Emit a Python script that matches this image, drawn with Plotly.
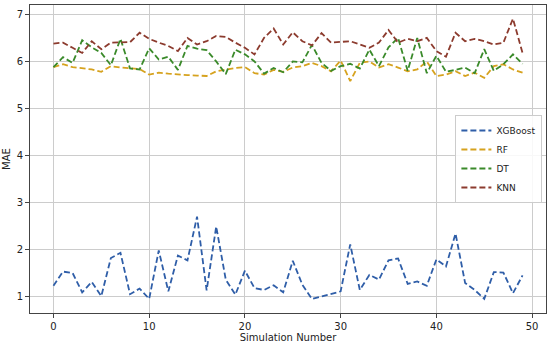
import plotly.graph_objects as go

sim = list(range(50))

xgboost = [1.23, 1.53, 1.50, 1.09, 1.31, 1.01, 1.82, 1.93, 1.05, 1.17,
           0.95, 1.98, 1.11, 1.87, 1.77, 2.70, 1.13, 2.49, 1.36, 1.04,
           1.55, 1.18, 1.14, 1.24, 1.09, 1.76, 1.25, 0.95, 1.00, 1.05,
           1.11, 2.11, 1.14, 1.46, 1.36, 1.77, 1.81, 1.27, 1.32, 1.23,
           1.79, 1.64, 2.34, 1.29, 1.14, 0.95, 1.52, 1.51, 1.07, 1.45]

rf = [5.88, 5.94, 5.88, 5.85, 5.83, 5.78, 5.90, 5.87, 5.85, 5.84,
      5.72, 5.76, 5.74, 5.72, 5.71, 5.70, 5.69, 5.79, 5.83, 5.86,
      5.88, 5.75, 5.72, 5.82, 5.78, 5.87, 5.90, 5.97, 5.90, 5.79,
      6.02, 5.58, 5.97, 6.00, 5.87, 5.94, 5.87, 5.79, 5.83, 6.00,
      5.69, 5.72, 5.79, 5.69, 5.76, 5.65, 5.90, 5.94, 5.83, 5.76]

dt = [5.88, 6.09, 5.97, 6.45, 6.30, 6.18, 5.92, 6.48, 5.85, 5.83,
      6.28, 6.04, 6.10, 5.82, 6.33, 6.27, 6.24, 6.00, 5.73, 6.25,
      6.15, 6.00, 5.74, 5.86, 5.77, 6.00, 5.98, 6.35, 5.97, 5.80,
      5.90, 5.95, 5.85, 6.25, 5.90, 6.30, 6.50, 5.80, 6.50, 5.75,
      6.12, 5.78, 5.82, 5.87, 5.75, 6.26, 5.80, 5.94, 6.15, 5.95]

knn = [6.38, 6.40, 6.29, 6.18, 6.43, 6.26, 6.40, 6.40, 6.41, 6.61,
       6.48, 6.40, 6.33, 6.22, 6.50, 6.36, 6.43, 6.54, 6.52, 6.40,
       6.29, 6.15, 6.50, 6.70, 6.36, 6.62, 6.43, 6.34, 6.60, 6.40,
       6.42, 6.43, 6.36, 6.29, 6.40, 6.67, 6.40, 6.48, 6.43, 6.50,
       6.22, 6.10, 6.61, 6.43, 6.48, 6.43, 6.36, 6.40, 6.91, 6.18]

series = [
    ("XGBoost", xgboost, "#2f5ea8"),
    ("RF", rf, "#d6a21e"),
    ("DT", dt, "#3a8a2a"),
    ("KNN", knn, "#8c3b2e"),
]

fig = go.Figure()
for name, vals, color in series:
    fig.add_trace(go.Scatter(x=sim, y=vals, mode="lines", name=name,
                             line=dict(color=color, width=1.8, dash="6px,3px")))

axis_common = dict(showgrid=True, gridcolor="#cccccc", gridwidth=1,
                   showline=True, linecolor="#444444", linewidth=1, mirror=True,
                   ticks="outside", ticklen=4, tickcolor="#444444",
                   zeroline=False, automargin=False,
                   tickfont=dict(size=10, color="#222222"))

fig.update_layout(
    width=550, height=347,
    margin=dict(l=30, r=4, t=5, b=34),
    paper_bgcolor="white", plot_bgcolor="white",
    font=dict(family="DejaVu Sans", size=10, color="#222222"),
    xaxis=dict(range=[-2.45, 51.45], tickvals=[0, 10, 20, 30, 40, 50],
               title=dict(text="Simulation Number", font=dict(size=10), standoff=2),
               **axis_common),
    yaxis=dict(range=[0.65, 7.2], tickvals=[1, 2, 3, 4, 5, 6, 7],
               title=dict(text="MAE", font=dict(size=10), standoff=4),
               **axis_common),
    legend=dict(x=0.993, xanchor="right", y=0.5, yanchor="middle",
                bgcolor="rgba(255,255,255,0.85)", bordercolor="#cccccc",
                borderwidth=1, font=dict(size=9), tracegroupgap=0,
                itemwidth=30),
    showlegend=True,
)

fig.write_html("out.html", config={"displayModeBar": False},
               post_script="document.body.style.margin='0';document.body.style.overflow='hidden';")
